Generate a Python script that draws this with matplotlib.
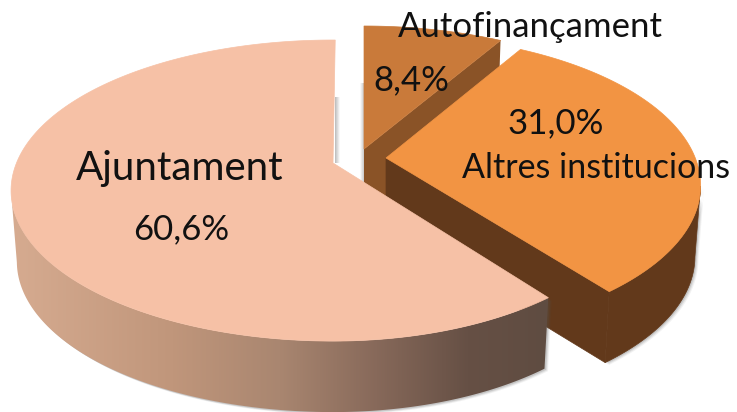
import numpy as np
import matplotlib
matplotlib.use("Agg")
import matplotlib.pyplot as plt
from matplotlib.patches import Polygon
from matplotlib.colors import LinearSegmentedColormap

labels = ["Autofinançament", "Altres institucions", "Ajuntament"]
values = [8.4, 31.0, 60.6]
value_labels = ["8,4%", "31,0%", "60,6%"]

top_colors = ["#c97a3a", "#f29443", "#f6c1a6"]
wall_colors = ["#8a5327", "#62391b", None]
apexes = [(364, 149), (386, 158), (333, 163)]
A, B, K = 314, 145.5, 0.183
DEPTH, SHRINK = 71, 0.982
RIGHT_SCALE = [1.0, 0.985, 0.96]
LEFT_SCALE = 1.008

plt.rcParams["font.family"] = ["Lato", "DejaVu Sans"]
fig = plt.figure(figsize=(7.37, 4.12), dpi=100)
ax = fig.add_axes([0, 0, 1, 1])
ax.set_xlim(0, 737)
ax.set_ylim(412, 0)
ax.axis("off")


def rim(apex, a0, a1, idx):
    psi = np.radians(np.linspace(a0, a1, 240))
    x, y = np.sin(psi), -np.cos(psi)
    den = 1 - K * y
    sx = np.where(x > 0, RIGHT_SCALE[idx], LEFT_SCALE)
    return np.column_stack([apex[0] + A * sx * x / den, apex[1] + B * y / den])


def lower(pts, apex):
    out = pts.copy()
    out[:, 0] = apex[0] + SHRINK * (pts[:, 0] - apex[0])
    out[:, 1] = pts[:, 1] + DEPTH
    return out


def band(upper, low):
    return np.vstack([upper, low[::-1]])


def shadow(pts, z):
    for off, alpha in [(3.5, .08), (2.5, .12), (1.5, .18)]:
        ax.add_patch(Polygon(pts + [off, off * .7], closed=True, fc="#555555",
                             ec="none", alpha=alpha, zorder=z))


def edge_shade(x0, x1, y0, y1, z, strong_right=True):
    n = 5
    xs = np.linspace(x0, x1, n + 1)
    for j in range(n):
        t = (j + .5) / n
        alpha = .5 * (1 - t) if strong_right else .5 * t
        ax.add_patch(Polygon([[xs[j], y0], [xs[j + 1], y0], [xs[j + 1], y1], [xs[j], y1]],
                             closed=True, fc="#777777", ec="none", alpha=alpha, zorder=z))


side_cmap = LinearSegmentedColormap.from_list(
    "side", [(0, "#d6ab90"), (.3, "#c0967b"), (.5, "#a98670"),
             (.68, "#87695a"), (.85, "#665045"), (1, "#5f4c41")])

total = sum(values)
angles = np.concatenate([[0], np.cumsum(values) / total * 360])
z = 1
for i in range(3):
    shift = 0.5 if i == 2 else 0
    a0, a1 = angles[i] + shift, angles[i + 1] + shift
    apex = apexes[i]
    r = rim(apex, a0, a1, i)
    face = np.vstack([[apex], r])
    low = lower(r, apex)
    apex_low = lower(np.array([apex], float), apex)

    if i == 0:
        p = np.array([apex, r[-1], low[-1], apex_low[0]])
        edge_shade(apex[0] - 4, apex[0] + 1, apex[1] - 66, apex[1] + 35, z, strong_right=False)
        z += 1
        ax.add_patch(Polygon(p, closed=True, fc=wall_colors[i], ec="none", zorder=z))
        z += 1
    elif i == 1:
        front = r[np.argmax(r[:, 0]):]
        wall = band(front, lower(front, apex))
        p = np.array([apex, r[-1], low[-1], apex_low[0]])
        shadow(wall, z)
        z += 1
        ax.add_patch(Polygon(wall, closed=True, fc=wall_colors[i], ec=wall_colors[i], lw=.5, zorder=z))
        ax.add_patch(Polygon(p, closed=True, fc=wall_colors[i], ec=wall_colors[i], lw=.5, zorder=z))
        z += 1
    else:
        front = r[:np.argmin(r[:, 0]) + 1]
        wall = band(front, lower(front, apex))
        shadow(wall, z)
        edge_shade(apex[0] + 2, apex[0] + 7, apex[1] - 66, apex[1], z, strong_right=True)
        z += 1
        poly = Polygon(wall, closed=True, fc="none", ec="none", zorder=z)
        ax.add_patch(poly)
        grad = np.linspace(0, 1, 256).reshape(1, -1)
        im = ax.imshow(grad, cmap=side_cmap, extent=[wall[:, 0].min(), wall[:, 0].max(), 412, 0],
                       aspect="auto", zorder=z)
        im.set_clip_path(poly)
        ax.set_xlim(0, 737)
        ax.set_ylim(412, 0)
        z += 1
    ax.add_patch(Polygon(face, closed=True, fc=top_colors[i], ec=top_colors[i], lw=.5, zorder=z))
    z += 1

tz = z + 1
ax.text(530, 27, labels[0], fontsize=25, color="#111111", ha="center", va="center", zorder=tz)
ax.text(411, 80, value_labels[0], fontsize=25, color="#111111", ha="center", va="center", zorder=tz)
ax.text(556, 123, value_labels[1], fontsize=25, color="#111111", ha="center", va="center", zorder=tz)
ax.text(596, 168, labels[1], fontsize=24.5, color="#111111", ha="center", va="center", zorder=tz)
ax.text(180, 168, labels[2], fontsize=29, color="#111111", ha="center", va="center", zorder=tz)
ax.text(181, 229, value_labels[2], fontsize=25, color="#111111", ha="center", va="center", zorder=tz)

fig.savefig("out.png", dpi=100)
